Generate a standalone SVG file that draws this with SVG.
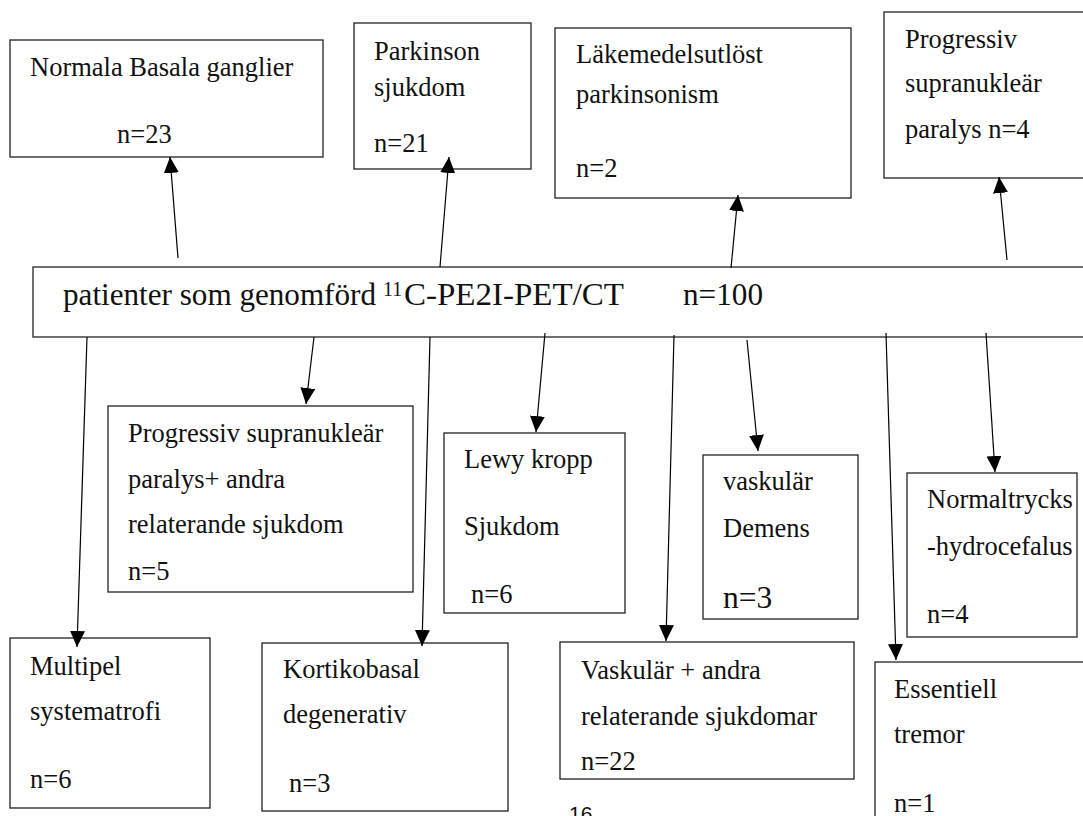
<svg xmlns="http://www.w3.org/2000/svg" width="1083" height="816" viewBox="0 0 1083 816">
<style>
.box{fill:#fff;stroke:#222;stroke-width:1.3}
.t{font-family:"Liberation Serif","Times New Roman",serif;font-size:26.5px;fill:#111}
.big{font-family:"Liberation Serif","Times New Roman",serif;font-size:31.5px;fill:#111}
.sup{font-family:"Liberation Serif","Times New Roman",serif;font-size:20px;fill:#111}
.c{stroke:#000;stroke-width:1.2;fill:none;marker-end:url(#ah)}
.pg{font-family:"Liberation Sans",Arial,sans-serif;font-size:21px;fill:#111}
</style>
<defs>
<marker id="ah" markerUnits="userSpaceOnUse" markerWidth="17" markerHeight="16" refX="16" refY="7.5" orient="auto">
<path d="M0,0 L16,7.5 L0,15 z" fill="#000"/>
</marker>
</defs>
<rect width="1083" height="816" fill="#fff"/>
<g id="n-normala"><rect class="box" x="10" y="40" width="313" height="117"/><text class="t" x="30" y="76">Normala Basala ganglier</text><text class="t" x="117" y="143">n=23</text></g>
<g id="n-parkinson"><rect class="box" x="354" y="23" width="177" height="146"/><text class="t" x="374" y="60">Parkinson</text><text class="t" x="374" y="96">sjukdom</text><text class="t" x="374" y="152">n=21</text></g>
<g id="n-lakemedel"><rect class="box" x="555" y="28" width="296" height="170"/><text class="t" x="576" y="63">Läkemedelsutlöst</text><text class="t" x="576" y="103">parkinsonism</text><text class="t" x="576" y="177">n=2</text></g>
<g id="n-psp"><rect class="box" x="884" y="12" width="210" height="166"/><text class="t" x="905" y="48">Progressiv</text><text class="t" x="905" y="92">supranukleär</text><text class="t" x="905" y="138">paralys n=4</text></g>
<g id="n-main"><rect class="box" x="33" y="267" width="1060" height="70"/><text class="big" x="63" y="305" textLength="313" lengthAdjust="spacingAndGlyphs">patienter som genomförd</text><text class="sup" x="383" y="296">11</text><text class="big" x="404" y="305" textLength="220" lengthAdjust="spacingAndGlyphs">C-PE2I-PET/CT</text><text class="big" x="683" y="305" textLength="80" lengthAdjust="spacingAndGlyphs">n=100</text></g>
<g id="n-pspplus"><rect class="box" x="108" y="406" width="305" height="186"/><text class="t" x="128" y="442">Progressiv supranukleär</text><text class="t" x="128" y="488">paralys+ andra</text><text class="t" x="128" y="533">relaterande sjukdom</text><text class="t" x="128" y="580">n=5</text></g>
<g id="n-lewy"><rect class="box" x="444" y="433" width="181" height="180"/><text class="t" x="464" y="468">Lewy kropp</text><text class="t" x="464" y="535">Sjukdom</text><text class="t" x="471" y="603">n=6</text></g>
<g id="n-demens"><rect class="box" x="703" y="455" width="155" height="164"/><text class="t" x="723" y="490">vaskulär</text><text class="t" x="723" y="537">Demens</text><text class="big" x="723" y="608">n=3</text></g>
<g id="n-normaltrycks"><rect class="box" x="907" y="473" width="170" height="164"/><text class="t" x="927" y="508">Normaltrycks</text><text class="t" x="927" y="555">-hydrocefalus</text><text class="t" x="927" y="623">n=4</text></g>
<g id="n-multipel"><rect class="box" x="10" y="638" width="200" height="170"/><text class="t" x="30" y="675">Multipel</text><text class="t" x="30" y="720">systematrofi</text><text class="t" x="30" y="788">n=6</text></g>
<g id="n-kortiko"><rect class="box" x="262" y="643" width="246" height="168"/><text class="t" x="283" y="678">Kortikobasal</text><text class="t" x="283" y="723">degenerativ</text><text class="t" x="289" y="792">n=3</text></g>
<g id="n-vaskplus"><rect class="box" x="560" y="642" width="294" height="137"/><text class="t" x="581" y="679">Vaskulär + andra</text><text class="t" x="581" y="725">relaterande sjukdomar</text><text class="t" x="581" y="770">n=22</text></g>
<g id="n-essentiell"><rect class="box" x="875" y="662" width="220" height="170"/><text class="t" x="894" y="698">Essentiell</text><text class="t" x="894" y="743">tremor</text><text class="t" x="894" y="812">n=1</text></g>
<text class="pg" x="569" y="821">16</text>
<g id="connectors">
<line class="c" x1="178" y1="258" x2="170" y2="157"/>
<line class="c" x1="440" y1="267" x2="449" y2="157"/>
<line class="c" x1="731" y1="268" x2="738" y2="195"/>
<line class="c" x1="1007" y1="260" x2="999" y2="177"/>
<line class="c" x1="87" y1="337" x2="77" y2="647"/>
<line class="c" x1="314" y1="337" x2="306" y2="404"/>
<line class="c" x1="430" y1="337" x2="422" y2="646"/>
<line class="c" x1="545" y1="333" x2="536" y2="432"/>
<line class="c" x1="674" y1="335" x2="666" y2="641"/>
<line class="c" x1="747" y1="340" x2="758" y2="451"/>
<line class="c" x1="886" y1="333" x2="896" y2="660"/>
<line class="c" x1="986" y1="333" x2="995" y2="472"/>
</g>
</svg>
